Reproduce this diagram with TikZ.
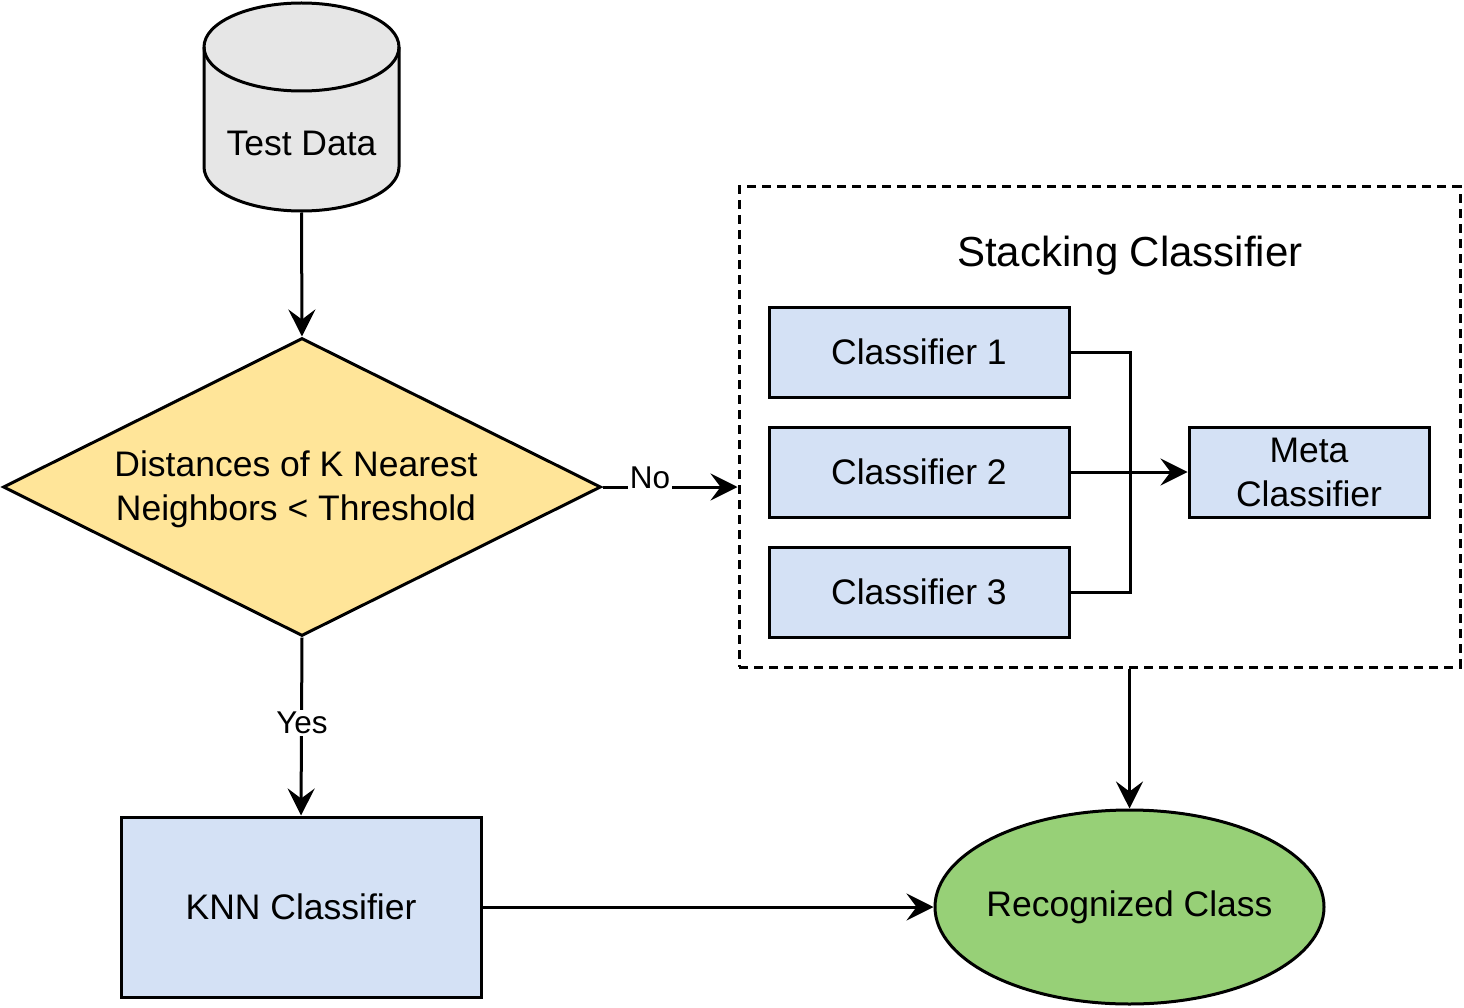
\documentclass[tikz,border=0pt]{standalone}
\usepackage{fontspec}
\setmainfont{Liberation Sans}
\usetikzlibrary{shapes.geometric,arrows.meta}
\definecolor{cylgray}{HTML}{E6E6E6}
\definecolor{decyellow}{HTML}{FFE599}
\definecolor{boxblue}{HTML}{D4E1F5}
\definecolor{resgreen}{HTML}{97D077}
\newcommand{\fsmain}{\fontsize{35.5}{44}\selectfont}
\newcommand{\fstitle}{\fontsize{42}{50}\selectfont}
\newcommand{\fslbl}{\fontsize{31.5}{38}\selectfont}
\begin{document}
\begin{tikzpicture}[x=1pt,y=-1pt,line width=3pt,
  arr/.style={-{Stealth[length=27pt,width=27pt,inset=10pt]}},
  box/.style={draw, fill=boxblue, minimum width=300pt, minimum height=90pt, inner sep=0pt, font=\fsmain, align=center},
  lbl/.style={fill=white, inner sep=2pt, font=\fslbl},
  dashbox/.style={draw, dash pattern=on 9pt off 6pt, minimum width=721pt, minimum height=480pt, inner sep=0pt}]
\useasboundingbox (0,0) rectangle (1464,1008);
% cylinder
\node[minimum width=195pt, minimum height=208pt, inner sep=0pt] (td) at (301.5,107) {};
\filldraw[fill=cylgray] (204,47) -- (204,167) arc[start angle=180,end angle=360,x radius=97.5pt,y radius=44pt]
  -- (399,47) arc[start angle=0,end angle=180,x radius=97.5pt,y radius=44pt] -- cycle;
\draw (204,47) arc[start angle=180,end angle=360,x radius=97.5pt,y radius=44pt];
\node[font=\fsmain, inner sep=0pt] (tdl) at (301.5,143) {Test Data};
% decision
\node[diamond, aspect=2, draw, fill=decyellow, minimum width=598pt, minimum height=298pt, inner sep=0pt] (dec) at (302,487) {};
\node[font=\fsmain, align=center, inner sep=0pt] (dect) at (296,489) {Distances of K Nearest\\Neighbors < Threshold};
% stacking
\node[dashbox] (stack) at (1099.5,427) {};
\node[font=\fstitle, inner sep=0pt] (title) at (1130,256) {Stacking Classifier};
\node[box] (c1) at (919,352) {Classifier 1};
\node[box] (c2) at (919,472) {Classifier 2};
\node[box] (c3) at (919,592) {Classifier 3};
\node[box, minimum width=240pt] (meta) at (1309,472) {Meta\\Classifier};
% bottom
\node[box, minimum width=360pt, minimum height=180pt] (knn) at (301,907) {KNN Classifier};
\node[ellipse, draw, fill=resgreen, minimum width=389pt, minimum height=194pt, inner sep=0pt, font=\fsmain] (rc) at (1129.5,907) {\makebox[0pt]{Recognized Class}};
% connectors
\draw[arr] (td.south) -- (dec.north);
\draw[arr] (dec.east) -- (stack.west |- dec.east);
\node[lbl] (no) at (650,478) {No};
\draw[arr] (dec.south) -- (knn.north);
\node[lbl] (yes) at (302,723) {Yes};
\draw (c1.east) -- ++(60,0) |- (c3.east);
\draw[arr] (c2.east) -- (meta.west);
\draw[arr] (stack.south -| rc.north) -- (rc.north);
\draw[arr] (knn.east) -- (rc.west);
\end{tikzpicture}
\end{document}
